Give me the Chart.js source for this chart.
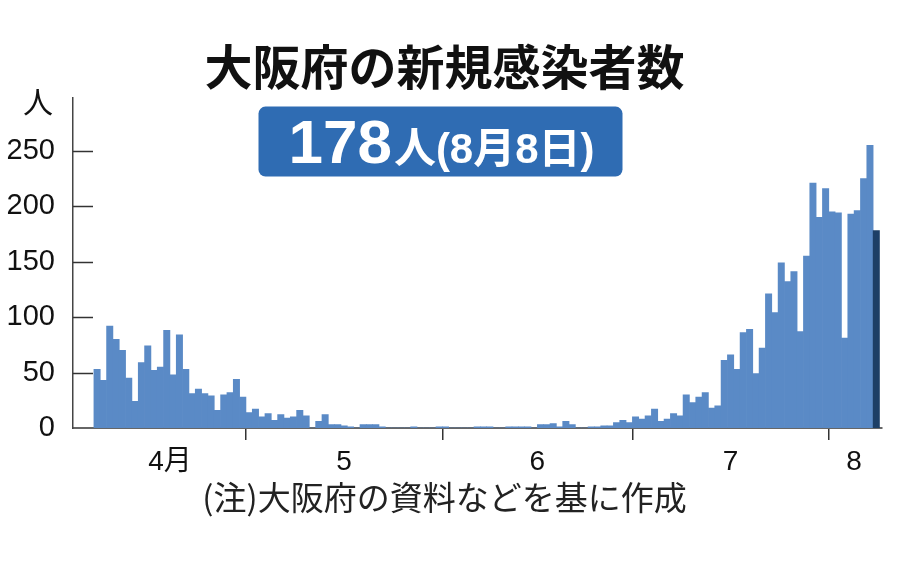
<!DOCTYPE html>
<html lang="ja">
<head>
<meta charset="utf-8">
<title>大阪府の新規感染者数</title>
<script src="https://cdn.jsdelivr.net/npm/chart.js@4.4.1/dist/chart.umd.min.js"></script>
<style>
  html, body { margin: 0; padding: 0; background: #fff; }
</style>
</head>
<body>
<canvas id="chart" width="900" height="561"></canvas>
<script>
// daily new cases in Osaka (Apr 7 - Aug 8)
const aprCases = [53, 43, 92, 80, 70, 45, 24, 59, 74, 52, 55, 88, 48, 84, 53, 31, 35, 31, 29, 16, 30, 32, 44, 28];
const mayCases = [14, 17, 10, 13, 7, 12, 9, 10, 16, 11, 0, 6, 12, 3, 3, 2, 1, 0, 3, 3, 3, 1, 0, 0, 0, 0, 1, 0, 0, 0, 1];
const junCases = [1, 0, 0, 0, 0, 1, 1, 1, 0, 0, 1, 1, 1, 1, 0, 3, 3, 4, 1, 6, 3, 0, 0, 1, 1, 2, 2, 5, 7, 5];
const julCases = [10, 8, 11, 17, 6, 8, 13, 11, 30, 23, 28, 32, 18, 20, 61, 66, 53, 86, 89, 49, 72, 121, 104, 149, 132, 141, 87, 155, 221, 190, 216];
const augCases = [195, 194, 81, 193, 196, 225, 255, 178];

const monthNums = [4, 5, 6, 7, 8];
const monthLabels = ['4月', '5', '6', '7', '8'];
const firstDays = [7, 1, 1, 1, 1];
const yTicks = [0, 50, 100, 150, 200, 250];

const titleText = '大阪府の新規感染者数';
const latestValue = '178';
const latestSuffix = '人(8月8日)';
const unitText = '人';
const noteText = '(注)大阪府の資料などを基に作成';

const barBlue = '#5a8ac6';
const lastBlue = '#1d3f66';
const boxBlue = '#2f6cb3';

// flatten months into one daily series
const monthly = [aprCases, mayCases, junCases, julCases, augCases];
const dates = [];
const cases = [];
const monthStart = [];
monthly.forEach((arr, m) => {
  monthStart.push(cases.length);
  arr.forEach((v, d) => {
    dates.push(monthNums[m] + '/' + (firstDays[m] + d));
    cases.push(v);
  });
});
monthStart.push(cases.length);

// month label sits in the middle of its days, tick marks on month edges
const labelPos = monthLabels.map((_, m) => (monthStart[m] + monthStart[m + 1] - 1) / 2);
const edgePos = monthStart.slice(1, -1).map(i => i - 0.5);

const jpFont = '"Noto Sans CJK JP", "Noto Sans", sans-serif';
const numFont = '"Liberation Sans", Arial, "Noto Sans CJK JP", sans-serif';

const overlay = {
  id: 'overlay',
  afterDraw(chart) {
    const { ctx, chartArea, scales } = chart;
    const y = scales.y;
    ctx.save();

    // short ticks pointing into the plot
    ctx.strokeStyle = '#333';
    ctx.lineWidth = 1.5;
    y.ticks.forEach(t => {
      if (t.value === 0) return;
      const py = Math.round(y.getPixelForValue(t.value)) + 0.5;
      ctx.beginPath();
      ctx.moveTo(chartArea.left, py);
      ctx.lineTo(chartArea.left + 20, py);
      ctx.stroke();
    });

    // unit label above the axis
    ctx.fillStyle = '#111';
    ctx.font = '30px ' + jpFont;
    ctx.textAlign = 'center';
    ctx.textBaseline = 'middle';
    ctx.fillText(unitText, chartArea.left - 35, chartArea.top + 4);

    // latest value box
    const tb = chart.titleBlock;
    const cx = (tb.left + tb.right) / 2 - 4;
    const bw = 364, bh = 70;
    const bx = cx - bw / 2, by = chartArea.top + 9;
    ctx.fillStyle = boxBlue;
    ctx.beginPath();
    ctx.roundRect(bx, by, bw, bh, 7);
    ctx.fill();

    ctx.fillStyle = '#fff';
    ctx.textAlign = 'left';
    ctx.textBaseline = 'alphabetic';
    const bigFont = 'bold 62px ' + numFont;
    const smallFont = 'bold 42px ' + numFont;
    ctx.font = bigFont;
    const w1 = ctx.measureText(latestValue).width;
    ctx.font = smallFont;
    const w2 = ctx.measureText(latestSuffix).width;
    const sx = cx - (w1 + w2) / 2;
    ctx.font = bigFont;
    ctx.fillText(latestValue, sx, by + 56);
    ctx.font = smallFont;
    ctx.fillText(latestSuffix, sx + w1 + 2, by + 56);

    ctx.restore();
  }
};

new Chart(document.getElementById('chart'), {
  type: 'bar',
  data: {
    labels: dates,
    datasets: [{
      label: '新規感染者数',
      data: cases.map((v, i) => ({ x: i, y: v })),
      backgroundColor: ctx => ctx.dataIndex === cases.length - 1 ? lastBlue : barBlue,
      borderWidth: 0,
      barPercentage: 1,
      categoryPercentage: 1
    }]
  },
  options: {
    responsive: false,
    animation: false,
    layout: { padding: { left: 7, right: 18, top: 0, bottom: 0 } },
    plugins: {
      legend: { display: false },
      tooltip: { enabled: false },
      title: {
        display: true,
        text: titleText,
        color: '#111',
        font: { family: jpFont, size: 48, weight: 'bold' },
        padding: { top: 38, bottom: 2 }
      },
      subtitle: {
        display: true,
        position: 'bottom',
        text: noteText,
        color: '#222',
        font: { family: jpFont, size: 33, weight: 'normal', lineHeight: 0.8 },
        padding: { top: 1, bottom: 50 }
      }
    },
    scales: {
      x: {
        type: 'linear',
        offset: false,
        min: -3.8,
        max: cases.length - 0.1,
        afterBuildTicks: scale => {
          scale.ticks = labelPos.concat(edgePos).sort((a, b) => a - b).map(v => ({ value: v }));
        },
        grid: {
          offset: false,
          drawOnChartArea: false,
          drawTicks: true,
          tickLength: 12,
          lineWidth: 1.5,
          color: ctx => (ctx.tick && edgePos.includes(ctx.tick.value)) ? '#333' : 'rgba(0,0,0,0)'
        },
        border: { color: '#666', width: 2 },
        ticks: {
          autoSkip: false,
          maxRotation: 0,
          padding: 5,
          color: '#111',
          font: { family: numFont, size: 28 },
          callback: value => {
            const m = labelPos.indexOf(value);
            return m >= 0 ? monthLabels[m] : '';
          }
        }
      },
      y: {
        min: 0,
        max: 298,
        afterBuildTicks: scale => {
          scale.ticks = yTicks.map(v => ({ value: v }));
        },
        // tick padding is counted twice in the width, so fix the width here
        afterFit: scale => { scale.width = 66; },
        grid: { display: false, drawTicks: false },
        border: { color: '#444', width: 1.5 },
        ticks: {
          padding: 18,
          color: '#111',
          font: { family: numFont, size: 29 }
        }
      }
    }
  },
  plugins: [overlay]
});
</script>
</body>
</html>
